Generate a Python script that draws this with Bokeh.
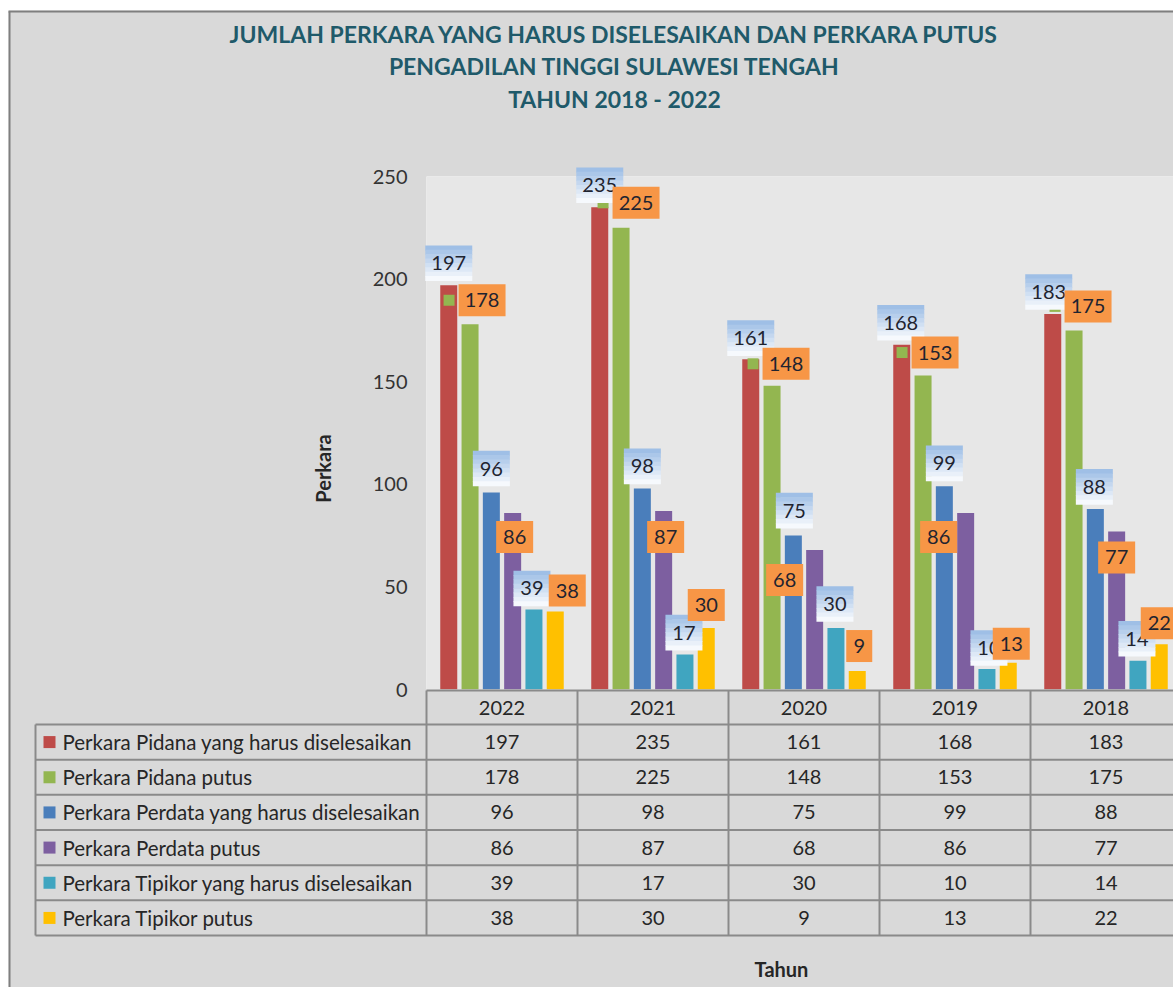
from math import pi
from bokeh.plotting import figure
from bokeh.models import Range1d, FixedTicker, ColumnDataSource, Spacer
from bokeh.layouts import column, row
from bokeh.core.properties import value
from bokeh.embed import file_html
from bokeh.resources import INLINE

# ---------------- data ----------------
years = ["2022", "2021", "2020", "2019", "2018"]
series_names = [
    "Perkara Pidana yang harus diselesaikan",
    "Perkara Pidana putus",
    "Perkara Perdata yang harus diselesaikan",
    "Perkara Perdata  putus",
    "Perkara Tipikor yang harus diselesaikan",
    "Perkara Tipikor putus",
]
pidana_harus = [197, 235, 161, 168, 183]
pidana_putus = [178, 225, 148, 153, 175]
perdata_harus = [96, 98, 75, 99, 88]
perdata_putus = [86, 87, 68, 86, 77]
tipikor_harus = [39, 17, 30, 10, 14]
tipikor_putus = [38, 30, 9, 13, 22]
series_values = [pidana_harus, pidana_putus, perdata_harus,
                 perdata_putus, tipikor_harus, tipikor_putus]
y_ticks = [0, 50, 100, 150, 200, 250]
title_lines = ["JUMLAH PERKARA YANG HARUS DISELESAIKAN DAN PERKARA PUTUS",
               "PENGADILAN TINGGI SULAWESI TENGAH",
               "TAHUN 2018 - 2022"]

# ---------------- styles ----------------
colors = ["#be4b48", "#93b650", "#4a7ebb", "#7d5fa0", "#40a5c0", "#ffc000"]
FONT = value("Lato")
TXT = "#262626"
TITLE_C = "#1f5a6a"

# label offsets (pixels, right / down) relative to bar top centre
lab_dx = [[0, 0, 0, -1, -4],
          [12, 15, 14, 12, 14],
          [0, 0, 1, 0, -1],
          [2, 2, -30, -27, 0],
          [-2, -1, -1, 2, -1],
          [12, 0, 2, 3, 0]]
lab_dy = [[-22, -22, -21, -22, -22],
          [-24, -25, -22, -23, -24],
          [-24, -22, -25, -23, -22],
          [24, 26, 30, 24, 26],
          [-21, -22, -24, -21, -22],
          [-21, -23, -25, -19, -21]]

# ---------------- layout (page pixels) ----------------
OFF_X, OFF_Y = 8, 10          # white page strip left / top of the chart
W, H = 1173 - OFF_X, 987 - OFF_Y
FRAME_L, FRAME_T, FRAME_B = 426, 176, 689
CELL = 151.0
PPU = (FRAME_B - FRAME_T) / 250.0
frame_w = W - (FRAME_L - OFF_X)


def dx(xp):
    return (xp - FRAME_L) / CELL


def dy(yp):
    return (FRAME_B - yp) / PPU


def wx(px):
    return px / CELL


def hy(px):
    return px / PPU


fig = figure(width=W, height=H, x_range=Range1d(0, frame_w / CELL),
             y_range=Range1d(0, 250), output_backend="svg",
             toolbar_location=None, title=None,
             min_border_left=FRAME_L - OFF_X, min_border_right=0,
             min_border_top=FRAME_T - OFF_Y,
             min_border_bottom=H - (FRAME_B - OFF_Y),
             background_fill_color="#e7e7e7", border_fill_color="#d9d9d9",
             outline_line_color=None)
fig.grid.visible = False

yax = fig.yaxis[0]
yax.ticker = FixedTicker(ticks=y_ticks)
yax.axis_line_color = None
yax.major_tick_line_color = None
yax.minor_tick_line_color = None
yax.major_tick_out = 0
yax.major_tick_in = 0
yax.major_label_standoff = 19
yax.major_label_text_font = "Lato"
yax.major_label_text_font_size = "20px"
yax.major_label_text_color = "#333333"

xax = fig.xaxis[0]
xax.ticker = FixedTicker(ticks=[i + 0.5 for i in range(len(years))])
xax.major_label_overrides = {i + 0.5: y for i, y in enumerate(years)}
xax.axis_line_color = None
xax.major_tick_line_color = None
xax.minor_tick_line_color = None
xax.major_tick_out = 0
xax.major_tick_in = 0
xax.major_label_standoff = 11
xax.major_label_text_font = "Lato"
xax.major_label_text_font_size = "20px"
xax.major_label_text_color = TXT

# ---------------- bars ----------------
step = 21.3 / CELL
bw = 17.0 / CELL
bar_x = []
for k, vals in enumerate(series_values):
    xs = [i + 0.5 + (k - 2.5) * step for i in range(len(years))]
    bar_x.append(xs)
    fig.vbar(x=xs, top=vals, bottom=0, width=bw, fill_color=colors[k],
             line_color=None)

# ---------------- data labels ----------------
box_w = {1: 26, 2: 37, 3: 47}
kx, ky = [], []
for i, v in enumerate(series_values[1]):
    kx.append(bar_x[1][i] + wx(lab_dx[1][i] - 33))
    ky.append(v + hy(-lab_dy[1][i]))
fig.scatter(kx, ky, marker="square", size=11, fill_color=colors[1],
            line_color=None, level="overlay")

NB = 8
top_c = (0x9f, 0xbf, 0xe6)
bot_c = (0xf6, 0xf9, 0xfd)
for k, vals in enumerate(series_values):
    lx, ly, lt, lw = [], [], [], []
    for i, v in enumerate(vals):
        lx.append(bar_x[k][i] + wx(lab_dx[k][i]))
        ly.append(v + hy(-lab_dy[k][i]))
        lt.append(str(v))
        lw.append(wx(box_w[len(str(v))]))
    if k % 2 == 0:
        bh = 35.0
        for j in range(NB):
            t = j / (NB - 1)
            c = "#%02x%02x%02x" % tuple(int(a + (b - a) * t) for a, b in zip(top_c, bot_c))
            yy = [y + hy(bh / 2 - bh * (j + 0.5) / NB) for y in ly]
            fig.rect(lx, yy, width=lw, height=hy(bh / NB + 0.6), fill_color=c,
                     line_color=None, level="overlay")
    else:
        fig.rect(lx, ly, width=lw, height=hy(32), fill_color="#f79646",
                 line_color=None, level="overlay")
    fig.text(lx, ly, text=lt, text_align="center", text_baseline="middle",
             text_font=FONT, text_font_size="20px", text_color="#1f2430",
             level="overlay")

# ---------------- data table ----------------
row_top = 724.0
row_h = 35.17
n_rows = len(series_names)
table_left = 35
right_edge = frame_w / CELL + 0.2
gx0, gy0, gx1, gy1 = [], [], [], []
gx0.append(0); gy0.append(dy(FRAME_B + 1)); gx1.append(right_edge); gy1.append(dy(FRAME_B + 1))
for r in range(n_rows + 1):
    yy = dy(row_top + r * row_h)
    gx0.append(dx(table_left)); gy0.append(yy); gx1.append(right_edge); gy1.append(yy)
gx0.append(dx(table_left)); gy0.append(dy(row_top)); gx1.append(dx(table_left)); gy1.append(dy(row_top + n_rows * row_h))
for i in range(len(years) + 1):
    gx0.append(i); gy0.append(dy(FRAME_B + 1)); gx1.append(i); gy1.append(dy(row_top + n_rows * row_h))
fig.segment(gx0, gy0, gx1, gy1, line_color="#8a8a8a", line_width=2,
            level="overlay")

row_y = [dy(row_top + (r + 0.5) * row_h) for r in range(n_rows)]
key_src = ColumnDataSource(dict(x=[dx(49)] * n_rows, y=row_y, c=colors))
fig.rect(x="x", y="y", width=wx(12), height=hy(12), fill_color="c",
         line_color=None, source=key_src, level="overlay")
fig.text([dx(62)] * n_rows, row_y, text=series_names, text_align="left",
         text_baseline="middle", text_font=FONT, text_font_size="20.5px",
         text_color=TXT, level="overlay")
tx, ty, tt = [], [], []
for r, vals in enumerate(series_values):
    for i, v in enumerate(vals):
        tx.append(i + 0.5); ty.append(row_y[r]); tt.append(str(v))
fig.text(tx, ty, text=tt, text_align="center", text_baseline="middle",
         text_font=FONT, text_font_size="20px", text_color=TXT, level="overlay")

# ---------------- titles ----------------
fig.text([dx(614)] * 3, [dy(33), dy(65), dy(98)], text=title_lines,
         text_align="center", text_baseline="middle", text_font=FONT,
         text_font_size="23px", text_font_style="bold", text_color=TITLE_C,
         level="overlay")
fig.text([dx(322)], [dy(468)], text=["Perkara"], angle=pi / 2,
         text_align="center", text_baseline="middle", text_font=FONT,
         text_font_size="20px", text_font_style="bold", text_color=TXT,
         level="overlay")
fig.text([dx(781)], [dy(968)], text=["Tahun"], text_align="center",
         text_baseline="middle", text_font=FONT, text_font_size="20px",
         text_font_style="bold", text_color=TXT, level="overlay")

# outer chart border (left and top)
fig.segment([dx(9), dx(8)], [dy(11), dy(11)], [dx(9), dx(1200)],
            [dy(1000), dy(11)], line_color="#7f7f7f", line_width=2,
            level="overlay")

p = column(Spacer(width=1173, height=OFF_Y),
           row(Spacer(width=OFF_X, height=H), fig, spacing=0), spacing=0)

open("out.html", "w").write(file_html(p, INLINE))
